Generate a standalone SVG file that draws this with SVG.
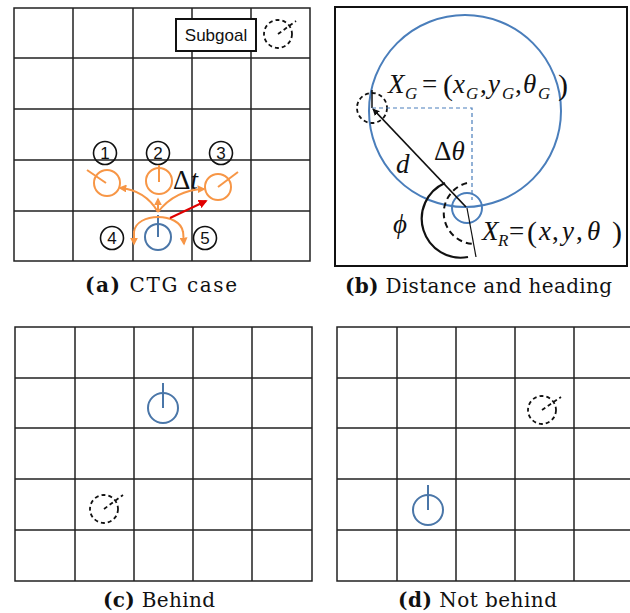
<svg xmlns="http://www.w3.org/2000/svg" width="630" height="613" viewBox="0 0 630 613">
<style>
.grid{stroke:#222;stroke-width:1.5;fill:none}
.cap{font-family:"DejaVu Serif","Liberation Serif",serif;font-size:20px;fill:#111}
.b{font-weight:bold}
.num{font-family:"Liberation Sans",Arial,sans-serif;font-size:17px;fill:#111;text-anchor:middle}
.ncirc{fill:none;stroke:#111;stroke-width:1.6}
.orange{fill:none;stroke:#F79646;stroke-width:2}
.blue{fill:none;stroke:#4A76A8;stroke-width:2}
.goal{fill:none;stroke:#111;stroke-width:1.8;stroke-dasharray:4,3}
.math{font-family:"Liberation Serif","Times New Roman",serif;font-size:27px;fill:#111}
.it{font-style:italic}
.sub{font-size:17px;font-style:italic}
.par{font-size:30px}
</style>
<defs>
<marker id="ao" viewBox="0 0 10 10" refX="8" refY="5" markerWidth="8" markerHeight="8" markerUnits="userSpaceOnUse" orient="auto"><path d="M0,0 L10,5 L0,10 z" fill="#F79646"/></marker>
<marker id="ar" viewBox="0 0 10 10" refX="8" refY="5" markerWidth="9" markerHeight="9" markerUnits="userSpaceOnUse" orient="auto"><path d="M0,0 L10,5 L0,10 z" fill="#E00000"/></marker>
<marker id="ak" viewBox="0 0 10 10" refX="9" refY="5" markerWidth="7" markerHeight="7" markerUnits="userSpaceOnUse" orient="auto"><path d="M0,0 L10,5 L0,10 z" fill="#111"/></marker>
</defs>
<rect width="630" height="613" fill="#fff"/>

<!-- Panel a -->
<g id="panel-a">
<path class="grid" d="M14,8H310V261H14Z M73,8V261 M133,8V261 M192,8V261 M251,8V261 M14,58H310 M14,109H310 M14,160H310 M14,211H310"/>
<g id="subgoal-box"><rect x="176" y="19" width="80" height="32" fill="#fff" stroke="#111" stroke-width="2"/><text class="num" x="216" y="41" font-size="16.5">Subgoal</text></g>
<g id="subgoal"><circle class="goal" cx="278" cy="34" r="14"/><line class="goal" x1="278" y1="34" x2="296" y2="21"/></g>
<g id="n1"><circle class="ncirc" cx="105" cy="153" r="11.5"/><text class="num" x="105" y="159">1</text></g>
<g id="n2"><circle class="ncirc" cx="158" cy="153" r="11.5"/><text class="num" x="158" y="159">2</text></g>
<g id="n3"><circle class="ncirc" cx="221" cy="153" r="11.5"/><text class="num" x="221" y="159">3</text></g>
<g id="n4"><circle class="ncirc" cx="112" cy="238" r="11.5"/><text class="num" x="112" y="244">4</text></g>
<g id="n5"><circle class="ncirc" cx="205" cy="238" r="11.5"/><text class="num" x="205" y="244">5</text></g>
<g id="c1"><circle class="orange" cx="107" cy="183" r="13"/><line class="orange" x1="87" y1="170" x2="106" y2="183"/></g>
<g id="c2"><circle class="orange" cx="159" cy="181" r="13"/><line class="orange" x1="159" y1="165" x2="159" y2="182"/></g>
<g id="c3"><circle class="orange" cx="218" cy="187" r="13"/><line class="orange" x1="218" y1="187" x2="238" y2="172"/></g>
<g id="robot-a"><circle class="blue" cx="158" cy="237" r="13"/><line class="blue" x1="158" y1="215" x2="158" y2="237"/></g>
<text class="math it" x="173" y="189" font-size="26"><tspan font-style="normal">Δ</tspan>t</text>
</g>
<g id="connectors-a">
<path class="orange" d="M158,212 Q145,190 120,188" marker-end="url(#ao)"/>
<path class="orange" d="M158,212 Q175,190 204,189" marker-end="url(#ao)"/>
<path class="orange" d="M158,212 L158,199" marker-end="url(#ao)"/>
<path class="orange" d="M134,232 C136,212 180,212 183,232" />
<path class="orange" d="M134,231 L134,244" marker-end="url(#ao)"/>
<path class="orange" d="M183,231 L184,244" marker-end="url(#ao)"/>
<line x1="170" y1="218" x2="206" y2="201" stroke="#E00000" stroke-width="2" marker-end="url(#ar)"/>
</g>
<text class="cap" x="85" y="292" textLength="152"><tspan class="b">(a)</tspan> CTG case</text>

<!-- Panel b -->
<g id="panel-b">
<rect x="335" y="7" width="292" height="259" fill="none" stroke="#111" stroke-width="2"/>
<circle cx="465" cy="111" r="96" fill="none" stroke="#4A7EBB" stroke-width="2"/>
<g id="goal-b"><circle class="goal" cx="372" cy="108" r="15"/><line x1="372" y1="90" x2="372" y2="108" stroke="#111" stroke-width="1.5"/></g>
<path d="M372,108H472V200" fill="none" stroke="#4A7EBB" stroke-width="1.2" stroke-dasharray="4,3"/>
<g id="robot-b"><circle cx="467" cy="208" r="15" fill="none" stroke="#4A7EBB" stroke-width="2"/><line x1="467" y1="208" x2="476" y2="257" stroke="#111" stroke-width="1.2"/></g>
<path d="M445,183 A39,39 0 0,0 468,257" fill="none" stroke="#111" stroke-width="2.2"/>
<path d="M467,183 A31,31 0 0,0 474,244" fill="none" stroke="#111" stroke-width="2" stroke-dasharray="6,4"/>
<text class="math"><tspan class="it" x="388" y="93">X</tspan><tspan class="sub" x="405" y="99">G</tspan><tspan x="422" y="93">=</tspan><tspan class="par" x="443" y="95">(</tspan><tspan class="it" x="453" y="93">x</tspan><tspan class="sub" x="466" y="99">G</tspan><tspan x="480" y="93">,</tspan><tspan class="it" x="488" y="93">y</tspan><tspan class="sub" x="502" y="99">G</tspan><tspan x="515" y="93">,</tspan><tspan class="it" x="523" y="93">θ</tspan><tspan class="sub" x="538" y="99">G</tspan><tspan class="par" x="558" y="95">)</tspan></text>
<text class="math"><tspan class="it" x="482" y="240">X</tspan><tspan class="sub" x="498" y="246">R</tspan><tspan x="509" y="240">=</tspan><tspan class="par" x="527" y="242">(</tspan><tspan class="it" x="539" y="240">x</tspan><tspan x="552" y="240">,</tspan><tspan class="it" x="562" y="240">y</tspan><tspan x="576" y="240">,</tspan><tspan class="it" x="587" y="240">θ</tspan><tspan class="par" x="612" y="242">)</tspan></text>
<text class="math" x="434" y="160">Δ<tspan class="it">θ</tspan></text>
<text class="math it" x="396" y="173">d</text>
<text class="math it" x="393" y="233">ϕ</text>
</g>
<g id="connectors-b">
<line x1="466" y1="207" x2="373" y2="109" stroke="#111" stroke-width="1.8" marker-end="url(#ak)"/>
</g>
<text class="cap" x="345" y="293" textLength="267"><tspan class="b">(b)</tspan> Distance and heading</text>

<!-- Panel c -->
<g id="panel-c">
<path class="grid" d="M15,327H312V581H15Z M75,327V581 M134,327V581 M193,327V581 M252,327V581 M15,378H312 M15,428H312 M15,479H312 M15,530H312"/>
<g id="robot-c"><circle class="blue" cx="163" cy="408" r="15"/><line class="blue" x1="163" y1="383" x2="163" y2="408"/></g>
<g id="goal-c"><circle class="goal" cx="104" cy="509" r="14"/><line class="goal" x1="104" y1="509" x2="123" y2="495"/></g>
</g>
<text class="cap" x="103" y="607" textLength="112"><tspan class="b">(c)</tspan> Behind</text>

<!-- Panel d -->
<g id="panel-d">
<path class="grid" d="M630,327H337V581H630 M397,327V581 M456,327V581 M515,327V581 M574,327V581 M337,378H630 M337,428H630 M337,479H630 M337,530H630"/>
<g id="goal-d"><circle class="goal" cx="542" cy="410" r="14"/><line class="goal" x1="542" y1="410" x2="561" y2="397"/></g>
<g id="robot-d"><circle class="blue" cx="428" cy="510" r="15"/><line class="blue" x1="428" y1="485" x2="428" y2="510"/></g>
</g>
<text class="cap" x="398" y="607" textLength="159"><tspan class="b">(d)</tspan> Not behind</text>
</svg>
